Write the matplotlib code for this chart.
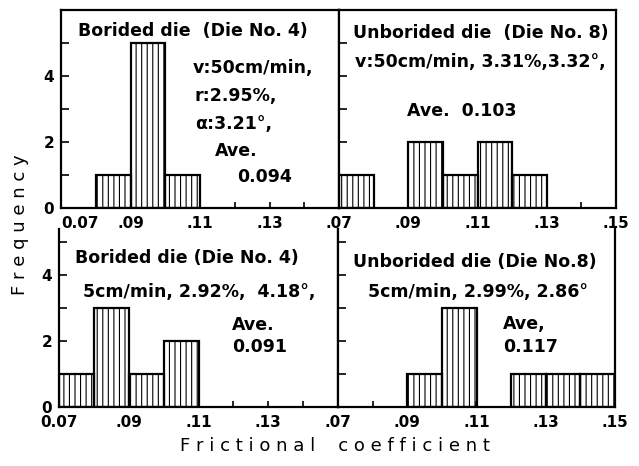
import matplotlib.pyplot as plt

plt.rcParams['hatch.linewidth'] = 0.8
plt.rcParams['hatch.color'] = 'black'
plt.rcParams['font.family'] = ['DejaVu Sans']

W, H = 639, 466

# histogram bins (left edges) and counts per panel
bin_left = [0.07, 0.08, 0.09, 0.10, 0.11, 0.12, 0.13, 0.14]
bin_width = 0.01
counts_top_left = [0, 1, 5, 1, 0, 0, 0, 0]
counts_top_right = [1, 0, 2, 1, 2, 1, 0, 0]
counts_bottom_left = [1, 3, 1, 2, 0, 0, 0, 0]
counts_bottom_right = [0, 0, 1, 3, 0, 1, 1, 1]

x_major = [0.07, 0.09, 0.11, 0.13, 0.15]
x_minor = [0.08, 0.10, 0.12, 0.14]
x_labels_left = ['0.07', '.09', '.11', '.13', '']
x_labels_right = ['.07', '.09', '.11', '.13', '.15']
y_ticks = [0, 1, 2, 3, 4, 5]
y_labels = ['0', '', '2', '', '4', '']

notes_top_left = [('Borided die  (Die No. 4)', 78, 31),
                  ('v:50cm/min,', 193, 68),
                  ('r:2.95%,', 195, 96),
                  ('α:3.21°,', 195, 124),
                  ('Ave.', 215, 151),
                  ('0.094', 237, 177)]
notes_top_right = [('Unborided die  (Die No. 8)', 353, 33),
                   ('v:50cm/min, 3.31%,3.32°,', 355, 62),
                   ('Ave.  0.103', 407, 111)]
notes_bottom_left = [('Borided die (Die No. 4)', 75, 258),
                     ('5cm/min, 2.92%,  4.18°,', 83, 292),
                     ('Ave.', 232, 325),
                     ('0.091', 232, 347)]
notes_bottom_right = [('Unborided die (Die No.8)', 353, 262),
                      ('5cm/min, 2.99%, 2.86°', 368, 292),
                      ('Ave,', 503, 324),
                      ('0.117', 503, 347)]

fig = plt.figure(figsize=(W / 100, H / 100), dpi=100)
fig.patch.set_facecolor('white')


def px_axes(left, top, right, bottom):
    return fig.add_axes([left / W, 1 - bottom / H, (right - left) / W,
                         (bottom - top) / H])


def draw_panel(ax, counts, ymax, xlabels, show_y, top_spine):
    xs = [b for b, c in zip(bin_left, counts) if c > 0]
    hs = [c for c in counts if c > 0]
    ax.bar(xs, hs, width=bin_width, align='edge', fill=False,
           edgecolor='black', linewidth=1.6, hatch='|||')
    ax.set_xlim(0.07, 0.15)
    ax.set_ylim(0, ymax)
    for s in ax.spines.values():
        s.set_linewidth(1.6)
    ax.spines['top'].set_visible(top_spine)
    ax.set_xticks(x_major)
    ax.set_xticklabels(xlabels, fontsize=11, fontweight='bold')
    ax.set_xticks(x_minor, minor=True)
    ax.set_yticks(y_ticks)
    ax.set_yticklabels(y_labels if show_y else [], fontsize=11,
                       fontweight='bold')
    ax.tick_params(axis='both', which='both', direction='in', width=1.2)
    ax.tick_params(axis='x', which='both', length=4, pad=6)
    ax.tick_params(axis='y', length=6, pad=5)


def add_notes(notes):
    for txt, px, py in notes:
        fig.text(px / W, 1 - py / H, txt, ha='left', va='center',
                 fontsize=12.5, fontweight='bold')


ax_tl = px_axes(61, 10, 339, 208)
ax_tr = px_axes(339, 10, 616, 208)
ax_bl = px_axes(59, 229, 338, 407)
ax_br = px_axes(338, 229, 615, 407)

draw_panel(ax_tl, counts_top_left, 6, x_labels_left, True, True)
draw_panel(ax_tr, counts_top_right, 6, x_labels_right, False, True)
draw_panel(ax_bl, counts_bottom_left, 178 / 33, x_labels_left, True, False)
draw_panel(ax_br, counts_bottom_right, 178 / 33, x_labels_right, False, False)

# the top-left first label starts at the axis corner
ax_tl.get_xticklabels()[0].set_ha('left')

for notes in (notes_top_left, notes_top_right, notes_bottom_left,
              notes_bottom_right):
    add_notes(notes)

fig.text(20 / W, 1 - 225 / H, 'F r e q u e n c y', rotation=90,
         ha='center', va='center', fontsize=13)
fig.text(335 / W, 1 - 446 / H, 'F r i c t i o n a l    c o e f f i c i e n t',
         ha='center', va='center', fontsize=13)

fig.savefig('out.png', dpi=100, facecolor='white')
